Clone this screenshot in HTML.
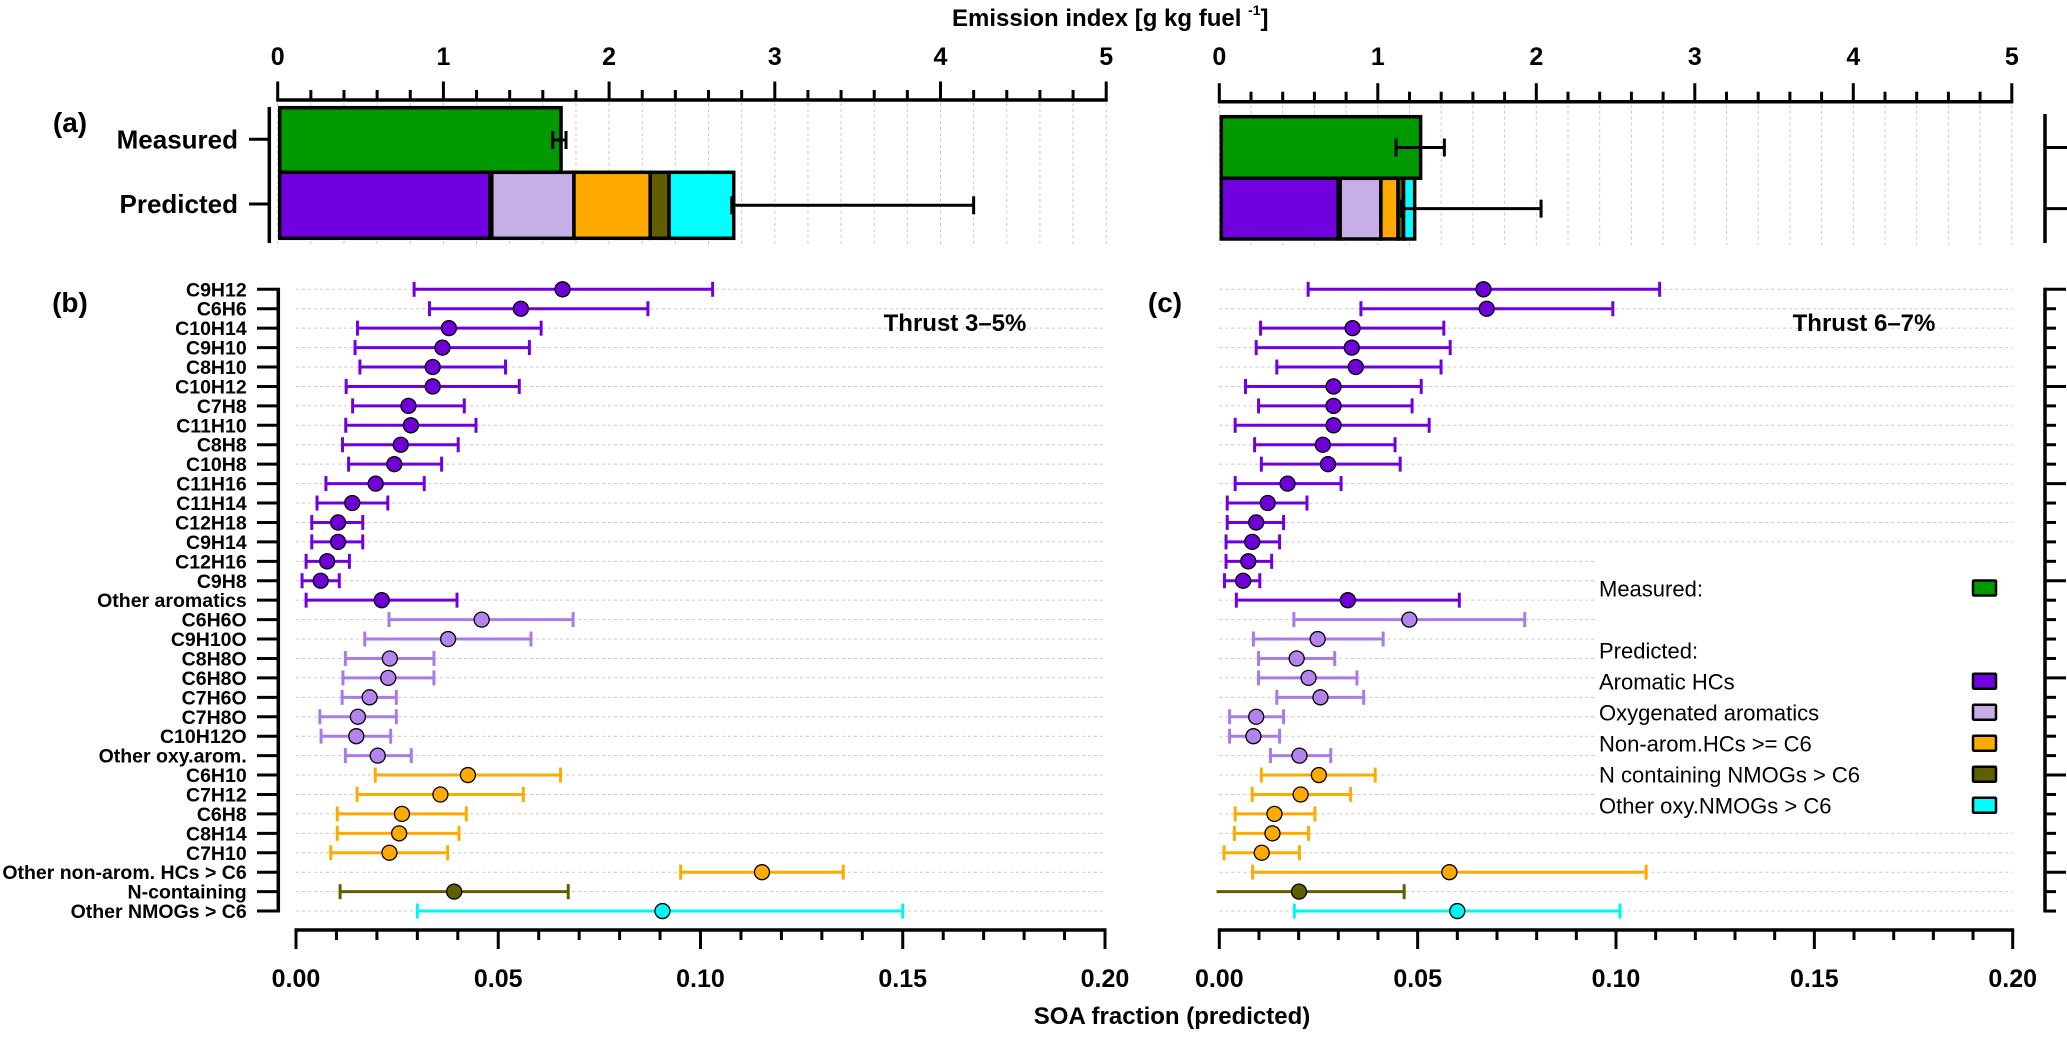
<!DOCTYPE html>
<html><head><meta charset="utf-8"><style>
html,body{margin:0;padding:0;background:#fff;}
svg{display:block;font-family:"Liberation Sans",Arial,sans-serif;}
</style></head><body>
<svg id="chart" width="2067" height="1037" viewBox="0 0 2067 1037" xmlns="http://www.w3.org/2000/svg"></svg>
<script>
// ---- data ----
const categories = ["C9H12","C6H6","C10H14","C9H10","C8H10","C10H12","C7H8","C11H10","C8H8","C10H8","C11H16","C11H14","C12H18","C9H14","C12H16","C9H8","Other aromatics","C6H6O","C9H10O","C8H8O","C6H8O","C7H6O","C7H8O","C10H12O","Other oxy.arom.","C6H10","C7H12","C6H8","C8H14","C7H10","Other non-arom. HCs > C6","N-containing","Other NMOGs > C6"];
const groups = ["aro","aro","aro","aro","aro","aro","aro","aro","aro","aro","aro","aro","aro","aro","aro","aro","aro","oxy","oxy","oxy","oxy","oxy","oxy","oxy","oxy","non","non","non","non","non","non","nit","oth"];
const leftVal = [0.0659,0.0556,0.0378,0.0362,0.0338,0.0338,0.0278,0.0284,0.0259,0.0243,0.0197,0.0139,0.0104,0.0104,0.0077,0.0061,0.0212,0.0459,0.0376,0.0232,0.0228,0.0182,0.0153,0.0149,0.0202,0.0425,0.0357,0.0262,0.0255,0.0231,0.1152,0.0391,0.0906];
const leftLo = [0.0292,0.033,0.0152,0.0146,0.0158,0.0124,0.014,0.0123,0.0115,0.013,0.0074,0.0052,0.0039,0.0039,0.0025,0.0015,0.0025,0.023,0.017,0.0122,0.0116,0.0114,0.0059,0.0062,0.0122,0.0196,0.0151,0.0102,0.0102,0.0086,0.0951,0.0109,0.030];
const leftHi = [0.103,0.087,0.0606,0.0577,0.0518,0.0552,0.0416,0.0445,0.0401,0.036,0.0317,0.0227,0.0165,0.0165,0.0132,0.0107,0.0398,0.0685,0.0581,0.0341,0.0341,0.0248,0.0248,0.0234,0.0285,0.0654,0.0562,0.0421,0.0403,0.0375,0.1353,0.0673,0.150];
const rightVal = [0.0666,0.0674,0.0336,0.0334,0.0344,0.0288,0.0288,0.0288,0.0261,0.0274,0.0172,0.0122,0.0093,0.0083,0.0073,0.006,0.0324,0.0479,0.0248,0.0195,0.0225,0.0255,0.0093,0.0086,0.0202,0.0251,0.0205,0.0139,0.0134,0.0107,0.058,0.0201,0.060];
const rightLo = [0.0224,0.0357,0.0104,0.0093,0.0145,0.0066,0.0099,0.004,0.0089,0.0106,0.004,0.002,0.002,0.0017,0.0017,0.0013,0.0043,0.0188,0.0086,0.0099,0.0099,0.0145,0.0026,0.0026,0.0129,0.0106,0.0083,0.004,0.0038,0.0012,0.0084,-0.0007,0.0189];
const rightHi = [0.111,0.0992,0.0566,0.0582,0.0559,0.0509,0.0486,0.0529,0.0443,0.0456,0.0307,0.0221,0.0162,0.0152,0.0132,0.0102,0.0605,0.077,0.0413,0.0291,0.0347,0.0364,0.0162,0.0152,0.0281,0.0393,0.0331,0.0241,0.0225,0.0202,0.1076,0.0466,0.101];
const bottomTicks = [0.00,0.05,0.10,0.15,0.20];
const bottomTickLabels = ["0.00","0.05","0.10","0.15","0.20"];
const topTicks = [0,1,2,3,4,5];
const barSeries = ["Aromatic HCs","Oxygenated aromatics","Non-arom.HCs >= C6","N containing NMOGs > C6","Other oxy.NMOGs > C6"];
const leftMeasured = 1.71, leftMeasErr = [1.66,1.74];
const leftPred = [1.28,0.496,0.46,0.114,0.39];
const leftPredErr = [2.74,4.2];
const rightMeasured = 1.27, rightMeasErr = [1.115,1.42];
const rightPred = [0.75,0.257,0.108,0.035,0.07];
const rightPredErr = [1.15,2.03];

// ---- styling ----
const colors = {aro:"#7000e0",oxy:"#a97ae8",non:"#ffaa00",nit:"#5f5f00",oth:"#00f5f5"};
const dotFill = {aro:"#6f00d8",oxy:"#b384ec",non:"#ffaa00",nit:"#5f5f00",oth:"#00f5f5"};
const barFill = ["#7000e0","#c8aee6","#ffaa00","#5f5f00","#00ffff"];
const NS="http://www.w3.org/2000/svg";
const svg=document.getElementById("chart");
function mk(tag,attrs,parent,name,inter){const e=document.createElementNS(NS,tag);for(const k in attrs)e.setAttribute(k,attrs[k]);if(name){}(parent||svg).appendChild(e);return e;}
function txt(s,attrs,name){const e=mk("text",attrs,svg);e.textContent=s;


return e;}

// ---- axis functions ----
const rowY = i => 289.3 + i*19.43;
const panels = [
 {bx0:296, bscale:4045, tx0:277.7, tscale:165.7, tAxisY:100, vals:leftVal, lo:leftLo, hi:leftHi, meas:leftMeasured, mErr:leftMeasErr, pred:leftPred, pErr:leftPredErr, mY:[107.7,172.3], pY:[172.3,238.3], id:"left"},
 {bx0:1219.3, bscale:3967, tx0:1219.3, tscale:158.5, tAxisY:101.7, vals:rightVal, lo:rightLo, hi:rightHi, meas:rightMeasured, mErr:rightMeasErr, pred:rightPred, pErr:rightPredErr, mY:[116.7,178.3], pY:[178.3,239], id:"right"}
];

panels.forEach(P=>{
  const bx=v=>P.bx0+v*P.bscale, tx=v=>P.tx0+v*P.tscale;
  const g=mk("g",{},svg,P.id+"-panel",false);
  for(let k=0;k<=25;k++){const x=tx(k*0.2);
    const gl=mk("line",{x1:x,x2:x,y1:P.tAxisY+3,y2:245,stroke:"#c8c8c8","stroke-width":1,"stroke-dasharray":"3,3"},g);
    
    }
  categories.forEach((c,i)=>{const gl=mk("line",{x1:bx(0),x2:bx(0.2),y1:rowY(i),y2:rowY(i),stroke:"#c8c8c8","stroke-width":1,"stroke-dasharray":"3,3"},g);
    
    });
  mk("line",{x1:tx(0)-1.5,x2:tx(5)+1.5,y1:P.tAxisY,y2:P.tAxisY,stroke:"#000","stroke-width":3.5},g,"top-axis-line",false);
  for(let k=0;k<=25;k++){const x=tx(k*0.2),maj=k%5==0;
    const t=mk("line",{x1:x,x2:x,y1:P.tAxisY,y2:P.tAxisY-(maj?18.5:10),stroke:"#000","stroke-width":3},g);
    
    }
  topTicks.forEach(v=>txt(String(v),{x:tx(v),y:65,"text-anchor":"middle","font-size":25,"font-weight":"bold"},"top-tick-label"));
  mk("rect",{x:tx(0)+2,y:P.mY[0],width:tx(P.meas)-tx(0)-2,height:P.mY[1]-P.mY[0],fill:"#009900",stroke:"#000","stroke-width":3.5},g,"measured-bar",false);
  let acc=0;
  P.pred.forEach((v,k)=>{const r=mk("rect",{x:tx(acc)+2,y:P.pY[0],width:tx(acc+v)-tx(acc)-(k==0?2:0),height:P.pY[1]-P.pY[0],fill:barFill[k],stroke:"#000","stroke-width":3.5},g);
    
    
    acc+=v;});
  const mc=(P.mY[0]+P.mY[1])/2, pc=(P.pY[0]+P.pY[1])/2;
  [[P.mErr,mc,"measured-error-bar"],[P.pErr,pc,"predicted-error-bar"]].forEach(([e,y,n])=>{
    const eg=mk("g",{stroke:"#000","stroke-width":3},g,n,false);
    mk("line",{x1:tx(e[0]),x2:tx(e[1]),y1:y,y2:y},eg);
    mk("line",{x1:tx(e[0]),x2:tx(e[0]),y1:y-9,y2:y+9},eg);
    mk("line",{x1:tx(e[1]),x2:tx(e[1]),y1:y-9,y2:y+9},eg);
  });
  mk("line",{x1:bx(0)-1.5,x2:bx(0.2)+1.5,y1:930,y2:930,stroke:"#000","stroke-width":3.5},g,"bottom-axis-line",false);
  for(let k=0;k<=20;k++){const x=bx(k*0.01),maj=k%5==0;
    const t=mk("line",{x1:x,x2:x,y1:930,y2:930+(maj?19:10),stroke:"#000","stroke-width":3},g);
    
    }
  bottomTicks.forEach((v,k)=>txt(bottomTickLabels[k],{x:bx(v),y:987,"text-anchor":"middle","font-size":25,"font-weight":"bold"},"bottom-tick-label"));
  categories.forEach((c,i)=>{
    const y=rowY(i),col=colors[groups[i]];
    const eg=mk("g",{stroke:col,"stroke-width":3},g);
    
    
    const lo=Math.max(P.lo[i],-0.0008);
    mk("line",{x1:bx(lo),x2:bx(P.hi[i]),y1:y,y2:y},eg);
    if(P.lo[i]>=0) mk("line",{x1:bx(P.lo[i]),x2:bx(P.lo[i]),y1:y-7.5,y2:y+7.5},eg);
    mk("line",{x1:bx(P.hi[i]),x2:bx(P.hi[i]),y1:y-7.5,y2:y+7.5},eg);
    const d=mk("circle",{cx:bx(P.vals[i]),cy:y,r:7.5,fill:dotFill[groups[i]],stroke:"#000","stroke-width":1.3},g);
    
    
  });
});

mk("line",{x1:278.3,x2:278.3,y1:rowY(0)-1.5,y2:rowY(32)+1.5,stroke:"#000","stroke-width":3.5},svg,"left-y-axis",false);
categories.forEach((c,i)=>{
  const t=mk("line",{x1:257,x2:278,y1:rowY(i),y2:rowY(i),stroke:"#000","stroke-width":3});
  
  
  txt(c,{x:246.7,y:rowY(i)+7,"text-anchor":"end","font-size":19.5,"font-weight":"bold"},"category-label");
});
mk("line",{x1:2045,x2:2045,y1:rowY(0)-1.5,y2:rowY(32)+1.5,stroke:"#000","stroke-width":3.5},svg,"right-y-axis",false);
categories.forEach((c,i)=>{
  const t=mk("line",{x1:2045,x2:2045+(i%5==0?21:11),y1:rowY(i),y2:rowY(i),stroke:"#000","stroke-width":3});
  
  
});
mk("line",{x1:269.3,x2:269.3,y1:107,y2:243,stroke:"#000","stroke-width":3.5},svg,"top-left-y-axis",false);
[[139.3,"Measured"],[204,"Predicted"]].forEach(([y,s])=>{
  const t=mk("line",{x1:249,x2:269,y1:y,y2:y,stroke:"#000","stroke-width":3});
  
  
  txt(s,{x:238,y:y+9,"text-anchor":"end","font-size":26,"font-weight":"bold"},"top-category-label");
});
mk("line",{x1:2045,x2:2045,y1:114,y2:243,stroke:"#000","stroke-width":3.5},svg,"top-right-y-axis",false);
[147.5,208.6].forEach(y=>{const t=mk("line",{x1:2045,x2:2067,y1:y,y2:y,stroke:"#000","stroke-width":3});
  
  });

// titles
const tt=txt("",{x:952,y:26,"font-size":24,"font-weight":"bold"},"top-axis-title");
const s1=document.createElementNS(NS,"tspan");s1.textContent="Emission index [g kg fuel ";tt.appendChild(s1);
const s2=document.createElementNS(NS,"tspan");s2.textContent="-1";s2.setAttribute("font-size","14");s2.setAttribute("dy","-11");tt.appendChild(s2);
const s3=document.createElementNS(NS,"tspan");s3.textContent="]";s3.setAttribute("dy","11");tt.appendChild(s3);
txt("SOA fraction (predicted)",{x:1172,y:1024,"text-anchor":"middle","font-size":24,"font-weight":"bold"},"bottom-axis-title");
txt("(a)",{x:70,y:132,"text-anchor":"middle","font-size":28,"font-weight":"bold"},"panel-label-a");
txt("(b)",{x:70,y:312,"text-anchor":"middle","font-size":28,"font-weight":"bold"},"panel-label-b");
txt("(c)",{x:1165,y:312,"text-anchor":"middle","font-size":28,"font-weight":"bold"},"panel-label-c");
txt("Thrust 3–5%",{x:955,y:331,"text-anchor":"middle","font-size":24,"font-weight":"bold"},"thrust-label-left");
txt("Thrust 6–7%",{x:1864,y:331,"text-anchor":"middle","font-size":24,"font-weight":"bold"},"thrust-label-right");

// legend
const lg=mk("g",{},svg,"legend",false);
mk("rect",{x:1597,y:560,width:420,height:262,fill:"#fff"},lg);
const legendRows=[["Measured:",588.5,"#009900"],["Predicted:",650.7,null]];
barSeries.forEach((s,k)=>legendRows.push([s,681.7+k*31,barFill[k]]));
legendRows.forEach(([s,y,c])=>{
  const t=mk("text",{x:1599,y:y+8,"font-size":22},lg);t.textContent=s;
  
  
  if(c){const r=mk("rect",{x:1973,y:y-8,width:23,height:15,fill:c,stroke:"#000","stroke-width":2.5,rx:1},lg);
    
    }
});
</script>
</body></html>
